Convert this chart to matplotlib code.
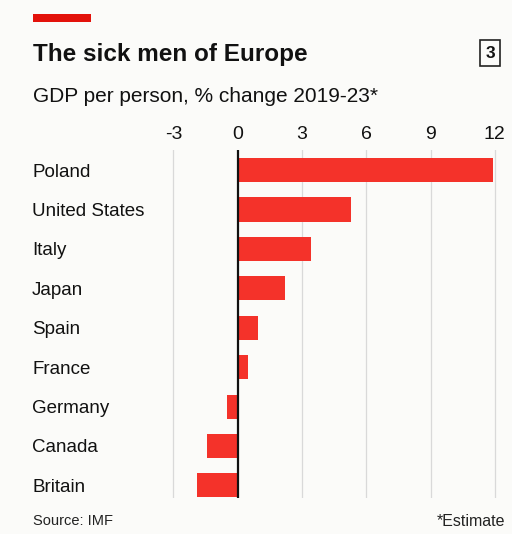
import matplotlib
matplotlib.use("Agg")
import matplotlib.pyplot as plt
from matplotlib.patches import Rectangle

countries = ["Poland", "United States", "Italy", "Japan", "Spain", "France",
             "Germany", "Canada", "Britain"]
values = [11.9, 5.3, 3.4, 2.2, 0.95, 0.5, -0.5, -1.45, -1.9]
xticks = [-3, 0, 3, 6, 9, 12]
xticklabels = ["-3", "0", "3", "6", "9", "12"]

W, H = 512, 534
fig = plt.figure(figsize=(W / 100, H / 100), dpi=100)
fig.patch.set_facecolor("#fbfbf9")
plt.rcParams['font.family'] = ['Liberation Sans Narrow', 'Liberation Sans', 'DejaVu Sans']

# axes placement in pixels
x0_px, unit_px = 237.7, 21.43
xmin, xmax = -3.3, 12.1
left_px = x0_px + xmin * unit_px
right_px = x0_px + xmax * unit_px
top_px, bot_px = 150, 498
ax = fig.add_axes([left_px / W, 1 - bot_px / H, (right_px - left_px) / W, (bot_px - top_px) / H])
ax.set_facecolor("none")
ax.set_xlim(xmin, xmax)
ax.set_ylim(len(countries) - 1 + 0.32, -0.51)

for t in xticks:
    if t != 0:
        ax.axvline(t, color="#d9d9d9", lw=0.9, zorder=0)
ax.barh(range(len(countries)), values, height=0.61, color="#f4322a", zorder=2)
ax.axvline(0, color="#111111", lw=1.6, zorder=3)

for s in ax.spines.values():
    s.set_visible(False)
ax.xaxis.tick_top()
ax.set_xticks(xticks)
ax.set_xticklabels(xticklabels, fontsize=14, color="#111111")
ax.tick_params(axis="x", length=0, pad=5)
ax.set_yticks(range(len(countries)))
ax.set_yticklabels(countries, fontsize=13.5, color="#111111", ha="left")
ax.tick_params(axis="y", length=0, pad=(left_px - 32) * 0.72)

# header
fig.add_artist(Rectangle((33 / W, 1 - 22 / H), 58 / W, 8 / H, transform=fig.transFigure,
                         color="#e3120b", lw=0))
fig.text(33 / W, 1 - 55 / H, "The sick men of Europe", fontsize=17.5, fontweight="bold",
         va="center", ha="left", color="#111111")
fig.text(490 / W, 1 - 53 / H, "3", fontsize=12.5, fontweight="bold", va="center", ha="center",
         color="#111111",
         bbox=dict(boxstyle="square,pad=0.3", fc="none", ec="#222222", lw=1.2))
fig.text(33 / W, 1 - 97 / H, "GDP per person, % change 2019-23*", fontsize=15,
         va="center", ha="left", color="#111111")
fig.text(33 / W, 1 - 521 / H, "Source: IMF", fontsize=10.5, va="center", ha="left", color="#222222")
fig.text(505 / W, 1 - 522 / H, "*Estimate", fontsize=11.5, va="center", ha="right", color="#222222")

fig.savefig("out.png", dpi=100, facecolor=fig.get_facecolor())
